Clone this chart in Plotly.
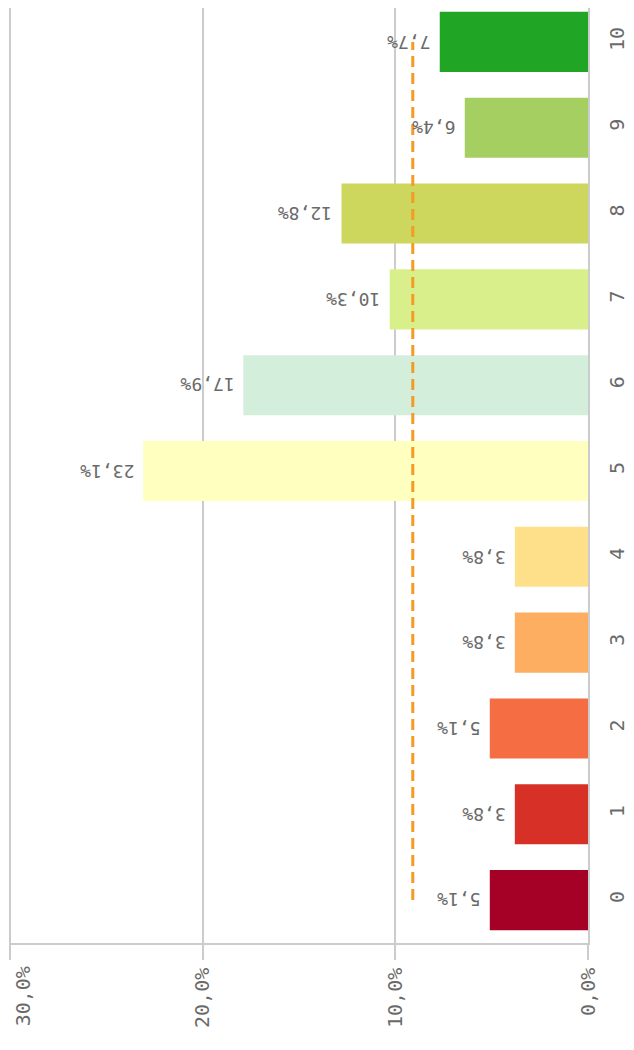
import plotly.graph_objects as go

categories = ["0", "1", "2", "3", "4", "5", "6", "7", "8", "9", "10"]
shares = [5.1, 3.8, 5.1, 3.8, 3.8, 23.1, 17.9, 10.3, 12.8, 6.4, 7.7]
mean_line = [9.1, 9.1, 9.1, 9.1, 9.1, 9.1, 9.1, 9.1, 9.1, 9.1, 9.1]
bar_colors = [
    "#a50026", "#d73027", "#f46d43", "#fdae61", "#fee08b", "#ffffbf",
    "#d4eedc", "#d8ef8b", "#cdd65d", "#a5cf60", "#21a524",
]
tick_vals = [0, 10, 20, 30]
tick_text = ["0,0%", "10,0%", "20,0%", "30,0%"]

FONT = "DejaVu Sans Mono"
GREY = "#6a6a6a"
LINE = "#cccccc"

fig = go.Figure()

fig.add_trace(go.Bar(
    x=shares,
    y=categories,
    orientation="h",
    width=0.7,
    marker=dict(color=bar_colors, line=dict(width=0)),
    showlegend=False,
))

fig.add_trace(go.Scatter(
    x=mean_line,
    y=categories,
    mode="lines",
    line=dict(color="#f59b23", width=3, dash="11px,6px"),
    showlegend=False,
))

# value labels, upside down like the source, a little off the bar end
for cat, val in zip(categories, shares):
    fig.add_annotation(
        x=val, y=cat,
        text=f"{val:.1f}%".replace(".", ","),
        showarrow=False,
        textangle=180,
        xanchor="right", yanchor="middle",
        xshift=-7,
        font=dict(family=FONT, size=18, color=GREY),
    )

# the last tick label sits at the page edge, so it is nudged inwards by hand
axis_labels = tick_text[:-1] + [""]
fig.add_annotation(
    x=tick_vals[-1], y=0, yref="paper",
    text=tick_text[-1],
    showarrow=False,
    textangle=-90,
    xanchor="center", yanchor="top",
    xshift=13, yshift=-21,
    font=dict(family=FONT, size=20, color=GREY),
)

# page body adds an 8px offset, so the figure is 8px smaller than the window
fig.update_layout(
    width=626,
    height=1042,
    margin=dict(l=1, r=46, t=0, b=107),
    paper_bgcolor="white",
    plot_bgcolor="white",
    separators=",.",
    xaxis=dict(
        range=[30.07, 0],
        tickvals=tick_vals,
        ticktext=axis_labels,
        tickangle=-90,
        ticks="outside",
        ticklen=15,
        tickcolor=LINE,
        tickwidth=1.5,
        showgrid=True,
        gridcolor=LINE,
        gridwidth=1.5,
        showline=True,
        linecolor=LINE,
        linewidth=1.5,
        zeroline=False,
        automargin=False,
        tickfont=dict(family=FONT, size=20, color=GREY),
    ),
    yaxis=dict(
        type="category",
        categoryorder="array",
        categoryarray=categories,
        range=[-0.5, 10.395],
        side="right",
        tickangle=-90,
        ticklabelstandoff=10,
        showgrid=False,
        showline=True,
        linecolor=LINE,
        linewidth=1.5,
        ticks="",
        zeroline=False,
        automargin=False,
        tickfont=dict(family=FONT, size=20, color=GREY),
    ),
)

fig.write_html("out.html")
